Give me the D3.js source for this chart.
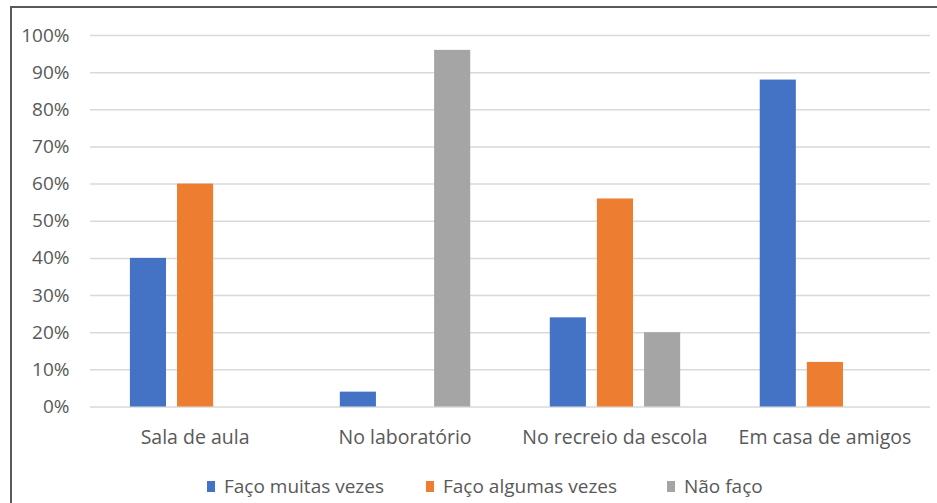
<!DOCTYPE html>
<html>
<head>
<meta charset="utf-8">
<script src="https://cdn.jsdelivr.net/npm/d3@7"></script>
<style>
  html, body { margin: 0; padding: 0; background: #fff; }
  svg { display: block; }
  text { font-family: "Open Sans", Lato, sans-serif; fill: #595959; }
</style>
</head>
<body>
<div id="chart"></div>
<script>
// Where students do the activity, share of answers per place
const categories = ["Sala de aula", "No laboratório", "No recreio da escola", "Em casa de amigos"];
const seriesNames = ["Faço muitas vezes", "Faço algumas vezes", "Não faço"];
const seriesColors = ["#4472C4", "#ED7D31", "#A5A5A5"];
const muitasVezes = [40, 4, 24, 88];
const algumasVezes = [60, 0, 56, 12];
const naoFaco = [0, 96, 20, 0];
const yTicks = [0, 10, 20, 30, 40, 50, 60, 70, 80, 90, 100];

const seriesValues = [muitasVezes, algumasVezes, naoFaco];
const rows = categories.map((c, i) => ({
  category: c,
  values: seriesNames.map((s, k) => ({ series: s, color: seriesColors[k], value: seriesValues[k][i] }))
}));

const W = 937, H = 503;
const FONT = "'Open Sans', Lato, sans-serif";
const svg = d3.select("#chart").append("svg").attr("width", W).attr("height", H);

// outer frame (right and bottom edges fall outside the view)
svg.append("rect")
  .attr("x", 11).attr("y", 7)
  .attr("width", W + 10).attr("height", H + 10)
  .attr("fill", "none").attr("stroke", "#5a5a5a").attr("stroke-width", 2);

const plot = { left: 90, right: 930, top: 35, bottom: 406.5 };

const y = d3.scaleLinear().domain([0, 100]).range([plot.bottom, plot.top]);
const x0 = d3.scaleBand().domain(categories).range([plot.left, plot.right])
  .paddingInner(0.379).paddingOuter(0.19);
const x1 = d3.scaleBand().domain(seriesNames).range([0, x0.bandwidth()])
  .paddingInner(0.234).paddingOuter(0);

// gridlines + y labels
const yAxis = d3.axisLeft(y).tickValues(yTicks).tickFormat(d => d + "%")
  .tickSize(-(plot.right - plot.left)).tickPadding(20.5);
const gy = svg.append("g").attr("transform", `translate(${plot.left},0)`).call(yAxis);
gy.select(".domain").remove();
gy.selectAll(".tick line").attr("stroke", "#d9d9d9").attr("stroke-width", 1.5);
gy.selectAll(".tick text").attr("font-size", 19).attr("fill", "#595959")
  .style("font-family", FONT);

// bars
const groups = svg.append("g").selectAll("g").data(rows).join("g")
  .attr("transform", d => `translate(${x0(d.category)},0)`);
groups.selectAll("rect").data(d => d.values.filter(v => v.value > 0)).join("rect")
  .attr("x", d => x1(d.series))
  .attr("width", x1.bandwidth())
  .attr("y", d => y(d.value))
  .attr("height", d => y(0) - y(d.value))
  .attr("fill", d => d.color);

// category axis
const xAxis = d3.axisBottom(x0).tickSize(0);
const gx = svg.append("g").attr("transform", `translate(0,${plot.bottom})`).call(xAxis);
gx.select(".domain").remove();
gx.selectAll(".tick text").attr("y", 37.5).attr("dy", 0)
  .attr("font-size", 19.5).attr("fill", "#595959")
  .style("font-family", FONT);

// legend
const legendX = [207, 426, 667];
const legend = svg.append("g").selectAll("g").data(seriesNames).join("g")
  .attr("transform", (d, i) => `translate(${legendX[i]},493)`);
legend.append("rect").attr("x", 0).attr("y", -12).attr("width", 8).attr("height", 11)
  .attr("fill", (d, i) => seriesColors[i]);
legend.append("text").attr("x", 17).attr("y", 0)
  .attr("font-size", 19).style("font-family", FONT).text(d => d);
</script>
</body>
</html>
